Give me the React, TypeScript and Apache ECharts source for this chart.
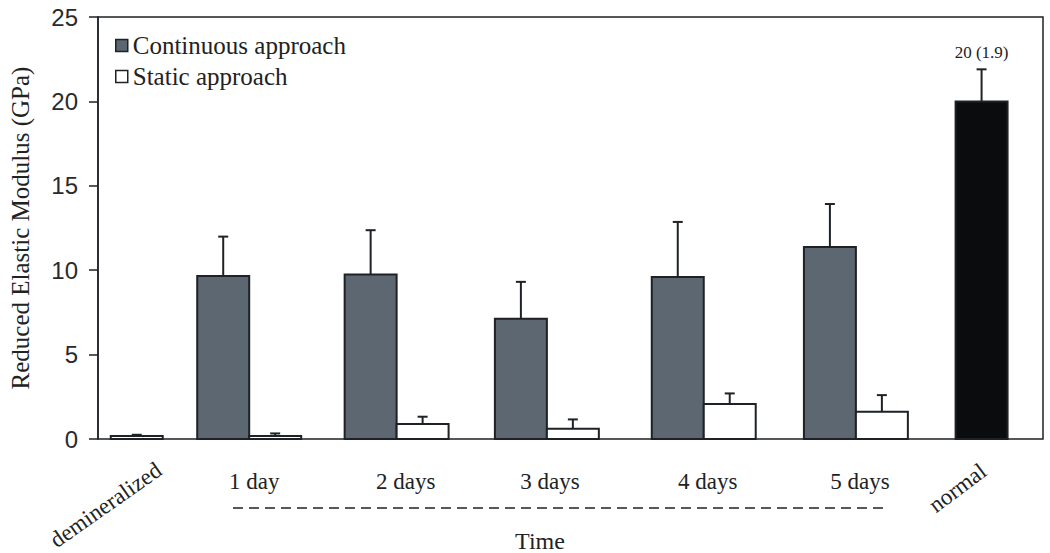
import React, { useEffect, useRef } from "react";
import * as echarts from "echarts";

// ---- data ----
const categories = ["demineralized", "1 day", "2 days", "3 days", "4 days", "5 days", "normal"];
const continuousMean = [null, 9.66, 9.74, 7.12, 9.59, 11.38, null];
const continuousSD = [null, 2.33, 2.63, 2.19, 3.27, 2.54, null];
const staticMean = [null, 0.18, 0.89, 0.61, 2.07, 1.62, null];
const staticSD = [null, 0.15, 0.43, 0.55, 0.63, 0.98, null];
const controlMean = [0.18, null, null, null, null, null, 20];
const controlSD = [0.07, null, null, null, null, null, 1.9];
const yTicks = [0, 5, 10, 15, 20, 25];

// ---- layout (axis units on a hidden 0..1000 x axis) ----
const SLOT_CENTERS = [41, 160, 316, 475, 641, 802, 935];
const BAR_UNITS = 55;
const LABEL_OFFSETS: [number, number, number][] = [
  [-31, 66, 35],
  [5, 42, 0],
  [9, 42, 0],
  [3, 42, 0],
  [4, 42, 0],
  [4, 42, 0],
  [-24, 49, 37],
];
const INK = "#1e2226";
const SERIF = "'Liberation Serif', 'Times New Roman', serif";
const SANS = "'Liberation Sans', Arial, sans-serif";
const CONT_COLOR = "#5d6771";

function pairRender(side: "left" | "right", fill: string) {
  return (params: any, api: any) => {
    const i = api.value(0);
    const v = api.value(1);
    const e = api.value(2);
    const c = SLOT_CENTERS[i];
    const w = api.size([BAR_UNITS, 0])[0];
    const base = api.coord([c, 0]);
    const top = api.coord([c, v]);
    const errTop = api.coord([c, v + e]);
    const x0 = side === "left" ? base[0] - w : base[0];
    const cx = x0 + w / 2;
    return {
      type: "group",
      children: [
        {
          type: "rect",
          shape: { x: x0, y: top[1], width: w, height: base[1] - top[1] },
          style: { fill, stroke: INK, lineWidth: 2 },
        },
        {
          type: "line",
          shape: { x1: cx, y1: top[1], x2: cx, y2: errTop[1] },
          style: { stroke: INK, lineWidth: 2 },
        },
        {
          type: "line",
          shape: { x1: cx - 5, y1: errTop[1], x2: cx + 5, y2: errTop[1] },
          style: { stroke: INK, lineWidth: 2 },
        },
      ],
    };
  };
}

function controlRender(params: any, api: any) {
  const i = api.value(0);
  const v = api.value(1);
  const e = api.value(2);
  const c = SLOT_CENTERS[i];
  const w = api.size([BAR_UNITS, 0])[0];
  const base = api.coord([c, 0]);
  const top = api.coord([c, v]);
  const errTop = api.coord([c, v + e]);
  const isNormal = categories[i] === "normal";
  const fill = isNormal ? "#0b0c0e" : "#ffffff";
  const x0 = base[0] - w / 2;
  const children: any[] = [
    {
      type: "rect",
      shape: { x: x0, y: top[1], width: w, height: Math.max(base[1] - top[1], 0) },
      style: { fill, stroke: INK, lineWidth: 2 },
    },
    {
      type: "line",
      shape: { x1: base[0], y1: top[1], x2: base[0], y2: errTop[1] },
      style: { stroke: INK, lineWidth: 2 },
    },
    {
      type: "line",
      shape: { x1: base[0] - 5, y1: errTop[1], x2: base[0] + 5, y2: errTop[1] },
      style: { stroke: INK, lineWidth: 2 },
    },
  ];
  if (isNormal) {
    children.push({
      type: "text",
      x: base[0],
      y: errTop[1] - 17,
      style: {
        text: `${v} (${e})`,
        font: `17px ${SERIF}`,
        fill: "#222",
        align: "center",
        verticalAlign: "middle",
      },
    });
  }
  return { type: "group", children };
}

function labelRender(params: any, api: any) {
  const i = api.value(0);
  const p = api.coord([SLOT_CENTERS[i], 0]);
  const [dx, dy, rot] = LABEL_OFFSETS[i];
  return {
    type: "text",
    x: p[0] + dx,
    y: p[1] + dy,
    rotation: (rot * Math.PI) / 180,
    style: {
      text: categories[i],
      font: `23px ${SERIF}`,
      fill: "#222",
      align: "center",
      verticalAlign: "middle",
    },
  };
}

function pairData(mean: (number | null)[], sd: (number | null)[]) {
  const out: number[][] = [];
  mean.forEach((m, i) => {
    if (m != null) out.push([i, m, sd[i] as number]);
  });
  return out;
}

export default function App() {
  const ref = useRef<HTMLDivElement>(null);
  useEffect(() => {
    if (!ref.current) return;
    const chart = echarts.init(ref.current, undefined, { renderer: "svg" });
    chart.setOption({
      animation: false,
      backgroundColor: "#ffffff",
      grid: {
        left: 98,
        right: 7,
        top: 17,
        bottom: 114,
        show: true,
        borderColor: INK,
        borderWidth: 1.5,
        backgroundColor: "transparent",
      },
      legend: {
        orient: "vertical",
        left: 110,
        top: 28,
        padding: 5,
        itemWidth: 12,
        itemHeight: 12,
        itemGap: 6,
        selectedMode: false,
        textStyle: { fontFamily: SERIF, fontSize: 25, color: "#222" },
        data: [
          {
            name: "Continuous approach",
            icon: "rect",
            itemStyle: { color: CONT_COLOR, borderColor: INK, borderWidth: 1.5 },
          },
          {
            name: "Static approach",
            icon: "rect",
            itemStyle: { color: "#ffffff", borderColor: INK, borderWidth: 1.5 },
          },
        ],
      },
      xAxis: {
        type: "value",
        min: 0,
        max: 1000,
        show: false,
      },
      yAxis: {
        type: "value",
        min: yTicks[0],
        max: yTicks[yTicks.length - 1],
        interval: yTicks[1] - yTicks[0],
        name: "Reduced Elastic Modulus (GPa)",
        nameLocation: "middle",
        nameGap: 65,
        nameTextStyle: { fontFamily: SERIF, fontSize: 25, color: "#222" },
        axisLine: { show: true, lineStyle: { color: INK, width: 1.5 } },
        axisTick: { show: true, inside: false, length: 9, lineStyle: { color: INK, width: 1.5 } },
        axisLabel: { margin: 20, fontFamily: SANS, fontSize: 24, color: "#2a2a2a" },
        splitLine: { show: false },
      },
      series: [
        {
          name: "Continuous approach",
          type: "custom",
          itemStyle: { color: CONT_COLOR },
          encode: { x: 0, y: 1 },
          renderItem: pairRender("left", CONT_COLOR),
          data: pairData(continuousMean, continuousSD),
          silent: true,
        },
        {
          name: "Static approach",
          type: "custom",
          itemStyle: { color: "#ffffff" },
          encode: { x: 0, y: 1 },
          renderItem: pairRender("right", "#ffffff"),
          data: pairData(staticMean, staticSD),
          silent: true,
        },
        {
          name: "controls",
          type: "custom",
          encode: { x: 0, y: 1 },
          renderItem: controlRender,
          data: pairData(controlMean, controlSD),
          silent: true,
        },
        {
          name: "labels",
          type: "custom",
          encode: { x: 0, y: 1 },
          renderItem: labelRender,
          data: categories.map((c, i) => [i, 0]),
          silent: true,
          clip: false,
        },
      ],
      graphic: [
        {
          type: "line",
          shape: { x1: 233, y1: 508, x2: 889, y2: 508 },
          style: { stroke: INK, lineWidth: 1.6, lineDash: [10, 6] },
        },
        {
          type: "text",
          x: 540,
          y: 541,
          style: {
            text: "Time",
            font: `24px ${SERIF}`,
            fill: "#222",
            align: "center",
            verticalAlign: "middle",
          },
        },
      ],
    });
    return () => chart.dispose();
  }, []);
  return (
    <div
      ref={ref}
      style={{ position: "absolute", left: 0, top: 0, width: 1050, height: 553 }}
    />
  );
}
